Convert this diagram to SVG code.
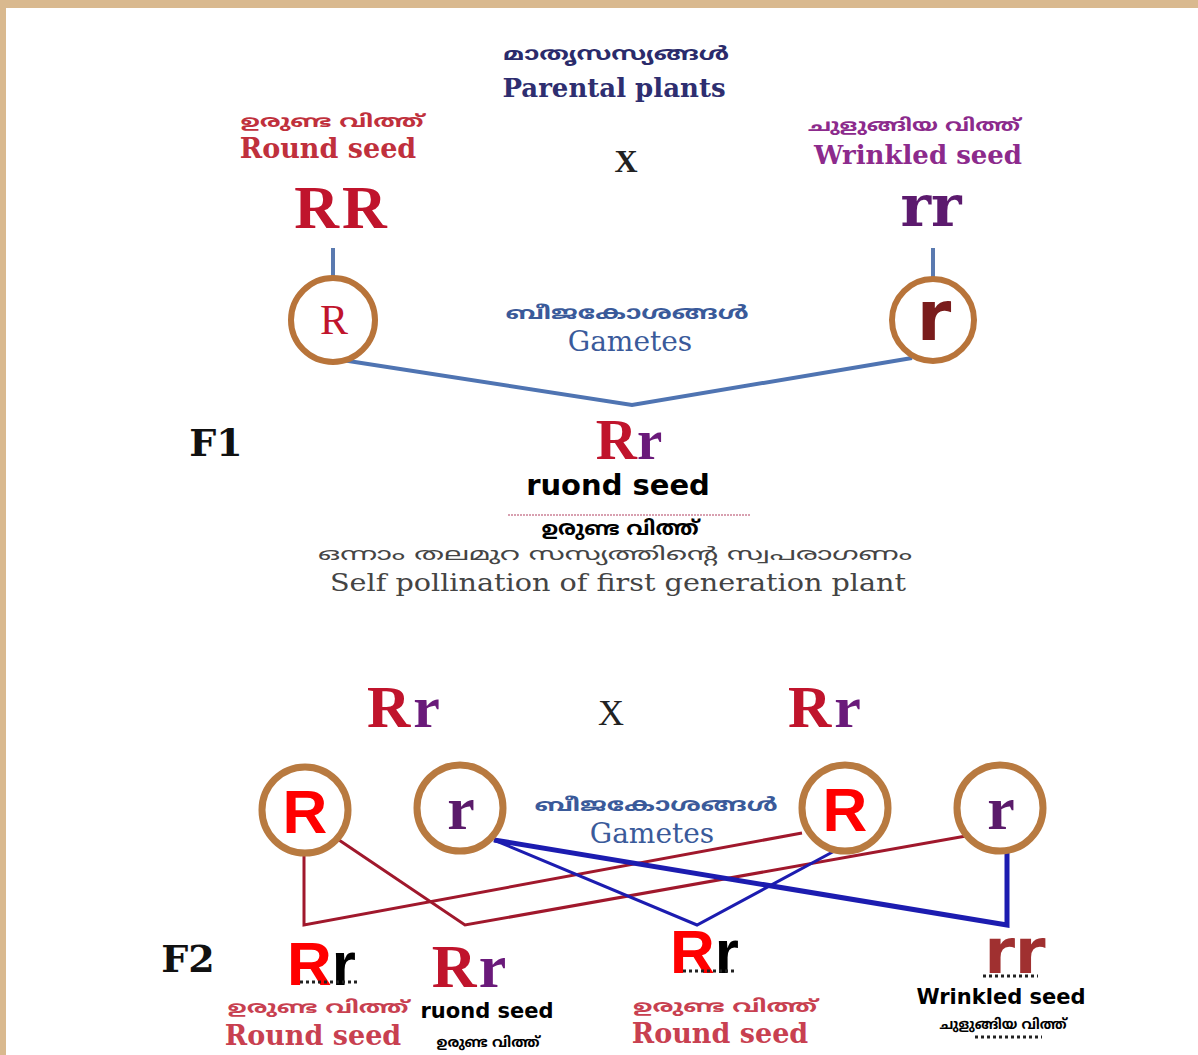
<svg xmlns="http://www.w3.org/2000/svg" width="1198" height="1055" viewBox="0 0 1198 1055">
<defs>
<style>
.ml{font-family:"Noto Sans Malayalam","Noto Sans","DejaVu Sans",sans-serif;text-anchor:middle;font-weight:bold}
.mln{font-family:"Noto Sans Malayalam","Noto Sans","DejaVu Sans",sans-serif;text-anchor:middle;font-weight:normal}
.sf{font-family:"DejaVu Serif",serif;text-anchor:middle}
.ls{font-family:"Liberation Serif",serif;font-weight:bold;text-anchor:middle}
.sb{font-family:"DejaVu Sans",sans-serif;font-weight:bold;text-anchor:middle}
.as{font-family:"Liberation Sans",sans-serif;font-weight:bold}
.circ1{fill:#fff;stroke:#b8743a;stroke-width:6}
.circ2{fill:#fff;stroke:#b87a40;stroke-width:7}
.dots{stroke:#222;stroke-width:3;stroke-dasharray:3 3}
</style>
</defs>
<rect x="0" y="0" width="1198" height="1055" fill="#d9b98f"/>
<rect x="6" y="8" width="1192" height="1047" fill="#ffffff"/>

<g id="connectors" fill="none">
<line x1="333" y1="248" x2="333" y2="280" stroke="#5a7ab0" stroke-width="4"/>
<line x1="933" y1="248" x2="933" y2="280" stroke="#5a7ab0" stroke-width="4"/>
<polyline points="342,360 632,405 912,358" stroke="#4f74b2" stroke-width="4"/>
<line x1="508" y1="515" x2="750" y2="515" stroke="#d8a0b0" stroke-width="2" stroke-dasharray="2 1"/>
<polyline points="304,853 304,925 802,833" stroke="#a0182c" stroke-width="3"/>
<polyline points="336,838 465,925 966,836" stroke="#a0182c" stroke-width="3"/>
<polyline points="494,840 697,925 840,848" stroke="#1c1cb0" stroke-width="3"/>
<polyline points="494,840 1007,925 1007,851" stroke="#1c1cb0" stroke-width="5"/>
</g>

<g id="parental-title">
<text class="ml" x="616" y="60" font-size="18" fill="#2b2b6b" textLength="226" lengthAdjust="spacingAndGlyphs">മാതൃസസ്യങ്ങൾ</text>
<text class="sf" x="614" y="97" font-size="26" fill="#2e2e70" font-weight="bold">Parental plants</text>
</g>
<g id="cross-p">
<text class="ls" x="626" y="172" font-size="32" fill="#222">X</text>
</g>
<g id="parent-RR">
<text class="ml" x="332" y="127" font-size="17" fill="#c0303c" textLength="183" lengthAdjust="spacingAndGlyphs">ഉരുണ്ട വിത്ത്</text>
<text class="sf" x="328" y="158" font-size="27" font-weight="bold" fill="#c0303c">Round seed</text>
<text class="ls" x="342" y="228" font-size="62" fill="#c0142c" letter-spacing="3">RR</text>
</g>
<g id="parent-rr">
<text class="ml" x="914" y="131" font-size="17" fill="#8c2a8c" textLength="212" lengthAdjust="spacingAndGlyphs">ചുളുങ്ങിയ വിത്ത്</text>
<text class="sf" x="918" y="164" font-size="26" font-weight="bold" fill="#8c2a8c">Wrinkled seed</text>
<text class="sf" x="931" y="226" font-size="58" font-weight="bold" fill="#5c1a6e">rr</text>
</g>
<g id="gamete-R">
<circle class="circ1" cx="333" cy="320" r="42"/>
<text class="ls" x="334" y="334" font-size="42" fill="#c0142c" style="font-weight:normal">R</text>
</g>
<g id="gamete-r">
<circle class="circ1" cx="933" cy="320" r="41"/>
<text class="sb" x="934" y="340" font-size="70" fill="#7a1c1c">r</text>
</g>
<g id="gametes-label-1">
<text class="ml" x="627" y="319" font-size="18" fill="#3a5a9a" textLength="243" lengthAdjust="spacingAndGlyphs">ബീജകോശങ്ങൾ</text>
<text class="sf" x="630" y="351" font-size="28" fill="#3a5a9a">Gametes</text>
</g>
<g id="f1-label">
<text class="sf" x="216" y="456" font-size="38" font-weight="bold" fill="#111">F1</text>
</g>
<g id="f1-Rr">
<text class="ls" x="629" y="459" font-size="57"><tspan fill="#c0142c">R</tspan><tspan fill="#6a1a7a">r</tspan></text>
<text class="sb" x="618" y="495" font-size="29" fill="#000">ruond seed</text>
<text class="ml" x="620" y="535" font-size="20" fill="#000" textLength="157" lengthAdjust="spacingAndGlyphs">ഉരുണ്ട വിത്ത്</text>
</g>
<g id="self-pollination">
<text class="mln" x="615" y="560" font-size="18" fill="#444" textLength="594" lengthAdjust="spacingAndGlyphs">ഒന്നാം തലമുറ സസ്യത്തിന്റെ സ്വപരാഗണം</text>
<text class="sf" x="618" y="591" font-size="24" fill="#444" textLength="576" lengthAdjust="spacingAndGlyphs">Self pollination of first generation plant</text>
</g>

<g id="f2-parent-left">
<text class="ls" x="405" y="727" font-size="60" letter-spacing="3"><tspan fill="#c0142c">R</tspan><tspan fill="#6a1a7a">r</tspan></text>
</g>
<g id="cross-f1">
<text class="ls" x="611" y="725" font-size="36" style="font-weight:normal" fill="#222">X</text>
</g>
<g id="f2-parent-right">
<text class="ls" x="826" y="727" font-size="60" letter-spacing="3"><tspan fill="#c0142c">R</tspan><tspan fill="#6a1a7a">r</tspan></text>
</g>
<g id="g2-R1">
<circle class="circ2" cx="305" cy="810" r="43"/>
<text class="as" x="305" y="833" font-size="62" fill="#ff0000" text-anchor="middle">R</text>
</g>
<g id="g2-r1">
<circle class="circ2" cx="460" cy="808" r="43"/>
<text class="ls" x="461" y="829" font-size="62" fill="#5a1a6a">r</text>
</g>
<g id="g2-R2">
<circle class="circ2" cx="845" cy="808" r="43"/>
<text class="as" x="845" y="831" font-size="62" fill="#ff0000" text-anchor="middle">R</text>
</g>
<g id="g2-r2">
<circle class="circ2" cx="1000" cy="808" r="43"/>
<text class="ls" x="1001" y="829" font-size="62" fill="#5a1a6a">r</text>
</g>
<g id="gametes-label-2">
<text class="ml" x="656" y="811" font-size="18" fill="#3a5a9a" textLength="243" lengthAdjust="spacingAndGlyphs">ബീജകോശങ്ങൾ</text>
<text class="sf" x="652" y="843" font-size="28" fill="#3a5a9a">Gametes</text>
</g>
<g id="f2-label">
<text class="sf" x="188" y="972" font-size="38" font-weight="bold" fill="#111">F2</text>
</g>
<g id="f2-child-1">
<text class="as" x="287" y="985" font-size="62"><tspan fill="#ff0000">R</tspan><tspan fill="#000">r</tspan></text>
<line class="dots" x1="300" y1="982" x2="358" y2="982"/>
<text class="ml" x="318" y="1013" font-size="17" fill="#c84050" textLength="181" lengthAdjust="spacingAndGlyphs">ഉരുണ്ട വിത്ത്</text>
<text class="sf" x="313" y="1045" font-size="27" font-weight="bold" fill="#c84050">Round seed</text>
</g>
<g id="f2-child-2">
<text class="ls" x="470" y="987" font-size="62" letter-spacing="2"><tspan fill="#c0142c">R</tspan><tspan fill="#6a1a7a">r</tspan></text>
<text class="sb" x="487" y="1018" font-size="21" fill="#000">ruond seed</text>
<text class="ml" x="488" y="1047" font-size="14" fill="#000" textLength="103" lengthAdjust="spacingAndGlyphs">ഉരുണ്ട വിത്ത്</text>
</g>
<g id="f2-child-3">
<text class="as" x="670" y="973" font-size="62"><tspan fill="#ff0000">R</tspan><tspan fill="#000">r</tspan></text>
<line class="dots" x1="683" y1="971" x2="734" y2="971"/>
<text class="ml" x="725" y="1012" font-size="17" fill="#c84050" textLength="184" lengthAdjust="spacingAndGlyphs">ഉരുണ്ട വിത്ത്</text>
<text class="sf" x="720" y="1043" font-size="27" font-weight="bold" fill="#c84050">Round seed</text>
</g>
<g id="f2-child-4">
<text class="sb" x="1015" y="973" font-size="62" fill="#a03030">rr</text>
<line class="dots" x1="983" y1="976" x2="1038" y2="976"/>
<text class="sb" x="1001" y="1004" font-size="21" fill="#000">Wrinkled seed</text>
<text class="ml" x="1003" y="1029" font-size="14" fill="#000" textLength="127" lengthAdjust="spacingAndGlyphs">ചുളുങ്ങിയ വിത്ത്</text>
<line class="dots" x1="975" y1="1037" x2="1042" y2="1037" stroke-width="2"/>
</g>
</svg>
